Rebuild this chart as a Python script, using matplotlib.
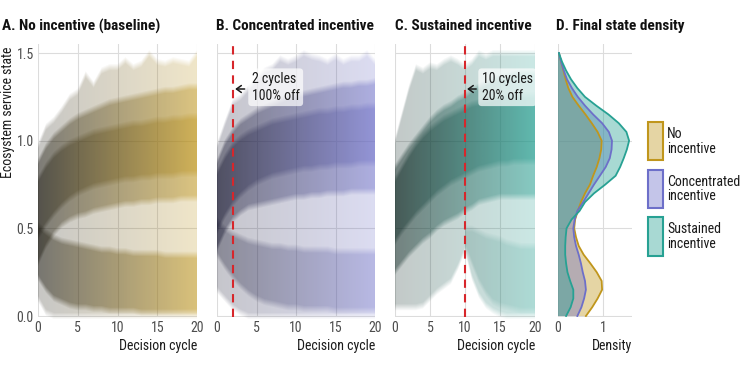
import numpy as np
import matplotlib
matplotlib.use("Agg")
import matplotlib.pyplot as plt
from matplotlib import font_manager
from matplotlib.patches import PathPatch, Rectangle
from matplotlib.colors import to_rgb

names = {f.name for f in font_manager.fontManager.ttflist}
fam = "Roboto Condensed" if "Roboto Condensed" in names else "Roboto"
plt.rcParams["font.family"] = [fam, "DejaVu Sans"]

# decision cycles
cycles = list(range(21))

# A. no incentive: cloud envelopes
a_out_lo = [0.10, 0.02, 0, 0, 0, 0, 0, 0, 0, 0, 0, 0, 0, 0, 0, 0, 0, 0, 0, 0, 0]
a_out_hi = [0.97, 1.08, 1.12, 1.18, 1.25, 1.28, 1.38, 1.32, 1.40, 1.42, 1.42,
            1.46, 1.42, 1.44, 1.50, 1.45, 1.44, 1.46, 1.45, 1.44, 1.50]
a_up_lo = [0.30, 0.40, 0.47, 0.52, 0.55, 0.57, 0.58, 0.60, 0.61, 0.62, 0.63,
           0.64, 0.64, 0.65, 0.65, 0.66, 0.66, 0.66, 0.67, 0.67, 0.67]
a_up_hi = [0.88, 0.97, 1.03, 1.07, 1.11, 1.14, 1.16, 1.18, 1.20, 1.22, 1.23,
           1.24, 1.25, 1.26, 1.27, 1.28, 1.29, 1.29, 1.30, 1.31, 1.31]
a_core_lo = [0.45, 0.52, 0.58, 0.63, 0.67, 0.70, 0.72, 0.74, 0.75, 0.76, 0.77,
             0.78, 0.78, 0.79, 0.79, 0.80, 0.80, 0.80, 0.81, 0.81, 0.81]
a_core_hi = [0.78, 0.86, 0.92, 0.96, 0.99, 1.01, 1.03, 1.05, 1.06, 1.07, 1.08,
             1.09, 1.10, 1.10, 1.11, 1.12, 1.12, 1.13, 1.13, 1.14, 1.14]
a_dn_lo = [0.22, 0.15, 0.10, 0.08, 0.06, 0.05, 0.05, 0.04, 0.04, 0.03, 0.03,
           0.03, 0.03, 0.02, 0.02, 0.02, 0.02, 0.02, 0.02, 0.02, 0.02]
a_dn_hi = [0.52, 0.48, 0.45, 0.43, 0.42, 0.41, 0.40, 0.39, 0.38, 0.38, 0.37,
           0.37, 0.36, 0.36, 0.36, 0.36, 0.35, 0.35, 0.35, 0.35, 0.35]

# B. concentrated incentive
b_out_lo = [0.15, 0.10, 0.05, 0.02, 0, 0, 0, 0, 0, 0, 0, 0, 0, 0, 0, 0, 0, 0, 0, 0, 0]
b_out_hi = [0.97, 1.10, 1.22, 1.25, 1.30, 1.35, 1.40, 1.42, 1.47, 1.45, 1.47,
            1.50, 1.48, 1.47, 1.45, 1.48, 1.45, 1.47, 1.47, 1.50, 1.45]
b_up_lo = [0.38, 0.48, 0.55, 0.59, 0.62, 0.63, 0.64, 0.65, 0.66, 0.67, 0.68,
           0.68, 0.69, 0.69, 0.70, 0.70, 0.70, 0.71, 0.71, 0.71, 0.71]
b_up_hi = [0.88, 0.99, 1.06, 1.11, 1.14, 1.17, 1.19, 1.21, 1.23, 1.25, 1.26,
           1.27, 1.28, 1.29, 1.30, 1.31, 1.32, 1.32, 1.33, 1.33, 1.34]
b_core_lo = [0.48, 0.57, 0.64, 0.69, 0.73, 0.76, 0.78, 0.80, 0.81, 0.82, 0.83,
             0.84, 0.84, 0.85, 0.85, 0.86, 0.86, 0.86, 0.87, 0.87, 0.87]
b_core_hi = [0.82, 0.91, 0.98, 1.02, 1.05, 1.07, 1.09, 1.11, 1.12, 1.13, 1.14,
             1.15, 1.16, 1.17, 1.17, 1.18, 1.18, 1.19, 1.19, 1.20, 1.20]
b_dn_lo = [0.35, 0.28, 0.22, 0.17, 0.13, 0.10, 0.08, 0.07, 0.06, 0.05, 0.05,
           0.04, 0.04, 0.04, 0.04, 0.03, 0.03, 0.03, 0.03, 0.03, 0.03]
b_dn_hi = [0.55, 0.50, 0.47, 0.45, 0.43, 0.42, 0.41, 0.40, 0.40, 0.39, 0.39,
           0.38, 0.38, 0.38, 0.38, 0.37, 0.37, 0.37, 0.37, 0.37, 0.37]

# C. sustained incentive
c_out_lo = [0.05, 0.05, 0.05, 0.05, 0.06, 0.10, 0.14, 0.17, 0.20, 0.28, 0.38,
            0.22, 0.12, 0.06, 0.03, 0.01, 0, 0, 0, 0, 0]
c_out_hi = [1.00, 1.15, 1.30, 1.42, 1.40, 1.43, 1.42, 1.45, 1.47, 1.45, 1.42,
            1.45, 1.50, 1.48, 1.50, 1.50, 1.50, 1.50, 1.50, 1.50, 1.50]
c_up_lo = [0.25, 0.30, 0.35, 0.39, 0.43, 0.46, 0.50, 0.53, 0.55, 0.57, 0.60,
           0.62, 0.65, 0.66, 0.67, 0.68, 0.68, 0.68, 0.68, 0.68, 0.68]
c_up_hi = [0.85, 0.91, 0.97, 1.02, 1.07, 1.12, 1.16, 1.19, 1.21, 1.24, 1.26,
           1.29, 1.31, 1.33, 1.35, 1.36, 1.37, 1.38, 1.39, 1.39, 1.39]
c_core_lo = [0.42, 0.48, 0.53, 0.58, 0.62, 0.66, 0.70, 0.73, 0.76, 0.78, 0.80,
             0.82, 0.84, 0.85, 0.86, 0.87, 0.87, 0.88, 0.88, 0.88, 0.88]
c_core_hi = [0.78, 0.85, 0.92, 0.98, 1.03, 1.07, 1.10, 1.13, 1.15, 1.17, 1.19,
             1.21, 1.22, 1.23, 1.24, 1.25, 1.25, 1.26, 1.26, 1.26, 1.26]
c_dn_cycles = list(range(10, 21))
c_dn_lo = [0.40, 0.30, 0.20, 0.13, 0.08, 0.06, 0.05, 0.04, 0.03, 0.03, 0.03]
c_dn_hi = [0.50, 0.50, 0.48, 0.46, 0.45, 0.44, 0.42, 0.41, 0.40, 0.40, 0.40]

# D. final state density
dens_y = [0.00, 0.05, 0.10, 0.15, 0.20, 0.25, 0.30, 0.35, 0.40, 0.45, 0.50,
          0.55, 0.60, 0.65, 0.70, 0.75, 0.80, 0.85, 0.90, 0.95, 1.00,
          1.05, 1.10, 1.15, 1.20, 1.25, 1.30, 1.35, 1.40, 1.45, 1.50]
dens_none = [0.62, 0.76, 0.88, 0.98, 0.97, 0.86, 0.72, 0.57, 0.46, 0.40, 0.36,
             0.38, 0.44, 0.51, 0.60, 0.71, 0.78, 0.86, 0.92, 0.96, 0.97,
             0.88, 0.75, 0.61, 0.46, 0.32, 0.23, 0.17, 0.12, 0.07, 0.02]
dens_conc = [0.43, 0.52, 0.58, 0.62, 0.60, 0.55, 0.51, 0.46, 0.40, 0.36, 0.34,
             0.37, 0.43, 0.56, 0.68, 0.80, 0.93, 1.06, 1.15, 1.19, 1.20,
             1.13, 0.98, 0.78, 0.60, 0.44, 0.31, 0.20, 0.13, 0.07, 0.02]
dens_sust = [0.18, 0.28, 0.34, 0.34, 0.27, 0.21, 0.18, 0.16, 0.16, 0.17, 0.19,
             0.30, 0.48, 0.60, 0.80, 1.05, 1.28, 1.38, 1.46, 1.53, 1.58,
             1.52, 1.35, 1.12, 0.85, 0.60, 0.43, 0.29, 0.18, 0.09, 0.02]

scen_labels = ["No\nincentive", "Concentrated\nincentive", "Sustained\nincentive"]
scen_colors = ["#c0961c", "#6d6fc9", "#27a193"]
dark_colors = ["#17150c", "#12122a", "#06201b"]
titles = ["A. No incentive (baseline)", "B. Concentrated incentive",
          "C. Sustained incentive", "D. Final state density"]

W, H = 750, 375
fig = plt.figure(figsize=(7.5, 3.75), dpi=100)


def ax_at(left, right, top=44.3, bottom=316.9):
    return fig.add_axes([left / W, 1 - bottom / H, (right - left) / W, (bottom - top) / H])


def style(ax):
    ax.set_facecolor("white")
    for s in ax.spines.values():
        s.set_visible(False)
    ax.grid(True, color="#dcdcdc", lw=0.8, zorder=0)
    ax.set_axisbelow(True)
    ax.tick_params(length=0, labelsize=10, labelcolor="#4d4d4d", pad=3)


def soften(img, dpi):
    # vertical blur of the band edges (premultiplied box blur)
    r = 3
    a = np.pad(img, ((r, r), (0, 0), (0, 0)))
    pm = a.copy()
    pm[..., :3] *= a[..., 3:4]
    pm = sum(np.roll(pm, s, axis=0) for s in range(-r, r + 1)) / (2 * r + 1)
    out = pm.copy()
    al = np.clip(pm[..., 3:4], 1e-6, None)
    out[..., :3] = np.clip(pm[..., :3] / al, 0, 1)
    return out, 0, -r


def band(ax, x, lo, hi, c0, c1, alpha):
    poly = ax.fill_between(x, lo, hi, facecolor="none", edgecolor="none")
    patch = PathPatch(poly.get_paths()[0], transform=ax.transData,
                      facecolor="none", edgecolor="none")
    ax.add_patch(patch)
    t = np.linspace(0, 1, 256)[:, None]
    rgb = (1 - t) * np.array(to_rgb(c0)) + t * np.array(to_rgb(c1))
    img = np.concatenate([rgb, np.full((256, 1), alpha)], axis=1)[None, :, :]
    im = ax.imshow(img, extent=[0, 20, -0.01, 1.56], aspect="auto",
                   origin="lower", interpolation="bilinear", zorder=2)
    im.set_clip_path(patch)
    im.set_agg_filter(soften)


panels = [
    (38, 197, a_out_lo, a_out_hi, a_up_lo, a_up_hi, a_core_lo, a_core_hi,
     cycles, a_dn_lo, a_dn_hi, 0.45),
    (217, 375, b_out_lo, b_out_hi, b_up_lo, b_up_hi, b_core_lo, b_core_hi,
     cycles, b_dn_lo, b_dn_hi, 0.32),
    (395, 535, c_out_lo, c_out_hi, c_up_lo, c_up_hi, c_core_lo, c_core_hi,
     c_dn_cycles, c_dn_lo, c_dn_hi, 0.18),
]

axes = []
for i, (l, r, olo, ohi, ulo, uhi, clo, chi, dx, dlo, dhi, dal) in enumerate(panels):
    ax = ax_at(l, r)
    style(ax)
    c0, c1 = dark_colors[i], scen_colors[i]
    band(ax, cycles, olo, ohi, c0, c1, 0.24)
    band(ax, cycles, ulo, uhi, c0, c1, 0.42)
    band(ax, cycles, clo, chi, c0, c1, 0.40)
    band(ax, dx, dlo, dhi, c0, c1, dal)
    ax.set_xlim(0, 20)
    ax.set_ylim(-0.005, 1.55)
    ax.set_xticks([0, 5, 10, 15, 20])
    ax.set_yticks([0, 0.5, 1.0, 1.5])
    if i == 0:
        ax.set_yticklabels(["0.0", "0.5", "1.0", "1.5"])
        ax.set_ylabel("Ecosystem service state", loc="top", fontsize=10,
                      color="#1a1a1a")
        ax.yaxis.set_label_coords(-23 / 159, 0.99)
    else:
        ax.set_yticklabels([])
    ax.set_xlabel("Decision cycle", loc="right", fontsize=10, color="#1a1a1a",
                  labelpad=3)
    axes.append(ax)

# incentive markers
for ax, xv, txt, tx, dx in [(axes[1], 2, "2 cycles\n100% off", 4.4, 1.2),
                            (axes[2], 10, "10 cycles\n20% off", 12.4, 1.3)]:
    ax.axvline(xv, color="#d7262b", lw=1.5, ls=(0, (4, 3)), zorder=4)
    ax.text(tx, 1.305, txt, fontsize=10, color="#1a1a1a", va="center",
            ha="left", linespacing=1.25, zorder=5,
            bbox=dict(boxstyle="round,pad=0.25", fc="white", ec="none", alpha=0.7))
    ax.annotate("", xy=(xv + 0.3, 1.295), xytext=(xv + 0.3 + dx, 1.295),
                arrowprops=dict(arrowstyle="->,head_length=0.35,head_width=0.25",
                                lw=1.1, color="#1a1a1a", shrinkA=0, shrinkB=0),
                zorder=5)

# density panel
axd = ax_at(558, 632)
style(axd)
for dens, col in zip([dens_none, dens_conc, dens_sust], scen_colors):
    axd.fill_betweenx(dens_y, 0, dens, facecolor=col, alpha=0.4, lw=0, zorder=2)
    axd.plot(dens, dens_y, color=col, lw=1.3, zorder=3)
axd.set_xlim(0, 1.644)
axd.set_ylim(-0.005, 1.55)
axd.set_xticks([0, 1])
axd.set_yticks([0, 0.5, 1.0, 1.5])
axd.set_yticklabels([])
axd.set_xlabel("Density", loc="right", fontsize=10, color="#1a1a1a", labelpad=3)

# legend
for k, (lab, col) in enumerate(zip(scen_labels, scen_colors)):
    top = 122 + k * 47.5
    fig.patches.append(Rectangle((648 / W, 1 - (top + 38.5) / H), 14.5 / W, 38.5 / H,
                                 transform=fig.transFigure, facecolor=col,
                                 alpha=0.4, edgecolor="none"))
    fig.patches.append(Rectangle((648 / W, 1 - (top + 38.5) / H), 14.5 / W, 38.5 / H,
                                 transform=fig.transFigure, facecolor="none",
                                 edgecolor=col, lw=1.5))
    fig.text(667 / W, 1 - (top + 19.5) / H, lab, fontsize=10, color="#1a1a1a",
             va="center", ha="left", linespacing=1.05)

for x, t in zip([2, 216, 395, 556], titles):
    fig.text(x / W, 1 - 26 / H, t, fontsize=11, fontweight="bold",
             color="#111111", va="center", ha="left")

fig.savefig("out.png", dpi=100)
